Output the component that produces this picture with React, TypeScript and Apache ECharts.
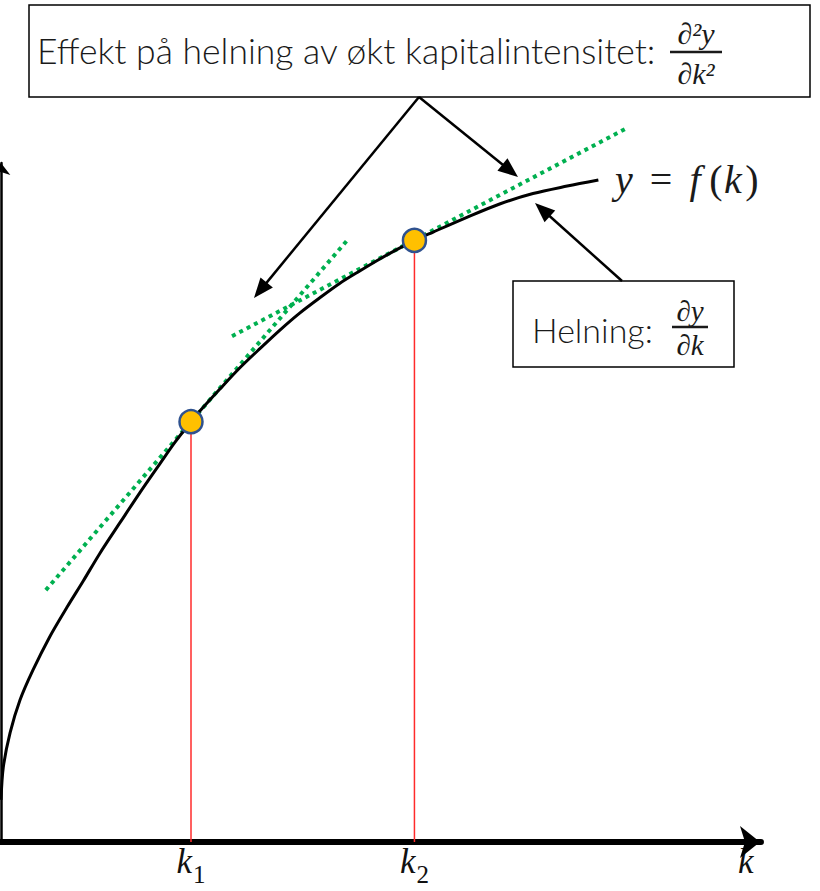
import React, { useEffect, useRef } from "react";
import * as echarts from "echarts";

// Capital intensity k (x) and output per worker y = f(k)
const curveK = [0, 0.03, 0.12, 0.25, 0.42, 0.64, 0.87, 1.08, 1.3, 1.57, 1.83, 2.09, 2.29, 2.5, 2.62, 2.88, 3.14, 3.41, 3.67, 3.93, 4.2, 4.46, 4.72, 4.99, 5.25, 5.44, 5.68, 6.13, 6.57, 7.0, 7.45, 7.86];
const curveY = [0.62, 1.1, 1.61, 2.09, 2.53, 3.02, 3.46, 3.84, 4.25, 4.71, 5.15, 5.57, 5.89, 6.19, 6.35, 6.67, 6.98, 7.27, 7.54, 7.79, 8.02, 8.23, 8.41, 8.59, 8.75, 8.86, 8.98, 9.2, 9.4, 9.55, 9.66, 9.75];

// The two marked capital levels and their output
const markedK = [2.5, 5.44];
const markedY = [6.19, 8.86];

// Tangent (slope) lines drawn at k1 and k2: [k, y] end points
const tangentK1 = [[0.59, 3.71], [4.57, 8.88]];
const tangentK2 = [[3.04, 7.45], [8.21, 10.5]];

// x-axis labels
const tickValues = [markedK[0], markedK[1], 9.8];
const tickNames = ["{k|k}{s|1}", "{k|k}{s|2}", "{k|k}"];

const SANS = '"Lato", "Noto Sans", sans-serif';
const MATH = '"Liberation Serif", "DejaVu Serif", serif';

function arrow(x1: number, y1: number, x2: number, y2: number) {
  const dx = x2 - x1;
  const dy = y2 - y1;
  const len = Math.hypot(dx, dy);
  const ux = dx / len;
  const uy = dy / len;
  const hl = 20;
  const hw = 8;
  const bx = x2 - ux * hl;
  const by = y2 - uy * hl;
  const px = -uy;
  const py = ux;
  return [
    {
      type: "line",
      z: 50,
      shape: { x1, y1, x2: bx + ux * 2, y2: by + uy * 2 },
      style: { stroke: "#000", lineWidth: 2.5 },
    },
    {
      type: "polygon",
      z: 50,
      shape: { points: [[x2, y2], [bx + px * hw, by + py * hw], [bx - px * hw, by - py * hw]] },
      style: { fill: "#000" },
    },
  ];
}

function txt(text: string, x: number, y: number, font: string, align = "center") {
  return {
    type: "text",
    z: 60,
    style: {
      text,
      x,
      y,
      font,
      fill: "#1a1a1a",
      textAlign: align,
      textVerticalAlign: "middle",
      align,
      verticalAlign: "middle",
    },
  };
}

function fracBar(x1: number, x2: number, y: number) {
  return { type: "line", z: 60, shape: { x1, y1: y, x2, y2: y }, style: { stroke: "#1a1a1a", lineWidth: 2.5 } };
}

export default function App() {
  const ref = useRef<HTMLDivElement>(null);

  useEffect(() => {
    if (!ref.current) return;
    const chart = echarts.init(ref.current, undefined, { renderer: "svg" });

    const curve = curveK.map((k, i) => [k, curveY[i]]);
    const dropLines = markedK.map((k, i) => ({
      type: "line",
      data: [[k, 0], [k, markedY[i]]],
      showSymbol: false,
      lineStyle: { color: "#ff2b2b", width: 1.5 },
      z: 1,
    }));

    const option: any = {
      animation: false,
      grid: { left: 1, top: 163, width: 760, height: 679 },
      xAxis: {
        type: "value",
        min: 0,
        max: 10,
        splitLine: { show: false },
        axisTick: { show: false },
        axisLine: {
          show: true,
          onZero: false,
          symbol: ["none", "arrow"],
          symbolSize: [24, 20],
          symbolOffset: [0, -1],
          lineStyle: { color: "#000", width: 6 },
        },
        axisLabel: {
          customValues: tickValues,
          margin: 5,
          formatter: (v: number) => {
            const i = tickValues.findIndex((t) => Math.abs(t - v) < 1e-6);
            return i >= 0 ? tickNames[i] : "";
          },
          rich: {
            k: {
              fontFamily: MATH,
              fontStyle: "italic",
              fontSize: 35,
              color: "#111",
              lineHeight: 40,
              verticalAlign: "bottom",
              padding: [0, 0, 8, 0],
            },
            s: {
              fontFamily: MATH,
              fontSize: 25,
              color: "#111",
              lineHeight: 40,
              verticalAlign: "bottom",
              padding: [0, 0, 0, 1],
            },
          },
        },
      },
      yAxis: {
        type: "value",
        min: 0,
        max: 10,
        splitLine: { show: false },
        axisTick: { show: false },
        axisLabel: { show: false },
        axisLine: {
          show: true,
          symbol: ["none", "arrow"],
          symbolSize: [14, 12],
          lineStyle: { color: "#000", width: 2.5 },
        },
      },
      series: [
        ...dropLines,
        {
          type: "line",
          data: tangentK1,
          showSymbol: false,
          clip: false,
          lineStyle: { color: "#00b050", width: 4, type: [4, 4.3], cap: "butt" },
          z: 2,
        },
        {
          type: "line",
          data: tangentK2,
          showSymbol: false,
          clip: false,
          lineStyle: { color: "#00b050", width: 4, type: [4, 4.3], cap: "butt" },
          z: 2,
        },
        {
          type: "line",
          data: curve,
          showSymbol: false,
          smooth: 0.3,
          clip: false,
          lineStyle: { color: "#000", width: 3 },
          z: 3,
        },
        {
          type: "scatter",
          data: markedK.map((k, i) => [k, markedY[i]]),
          symbolSize: 23,
          itemStyle: { color: "#ffc000", borderColor: "#2f528f", borderWidth: 2.5, opacity: 1 },
          z: 5,
        },
      ],
      graphic: [
        // Box: effect of higher capital intensity on the slope
        { type: "rect", z: 40, shape: { x: 29, y: 5, width: 781, height: 92 }, style: { fill: "#fff", stroke: "#000", lineWidth: 1.5 } },
        txt("Effekt på helning av økt kapitalintensitet:", 37, 50, `300 35.5px ${SANS}`, "left"),
        txt("∂²y", 696, 33, `italic 30px ${MATH}`),
        fracBar(670, 722, 52),
        txt("∂k²", 696, 73, `italic 30px ${MATH}`),
        // Box: slope
        { type: "rect", z: 40, shape: { x: 513, y: 281, width: 221, height: 86 }, style: { fill: "#fff", stroke: "#000", lineWidth: 1.5 } },
        txt("Helning:", 532, 329, `300 34px ${SANS}`, "left"),
        txt("∂y", 690, 311, `italic 29px ${MATH}`),
        fracBar(672, 708, 327),
        txt("∂k", 690, 345, `italic 29px ${MATH}`),
        // Curve label y = f(k)
        txt("y", 624, 179, `italic 40px ${MATH}`),
        txt("=", 661, 179, `40px ${MATH}`),
        txt("f", 695, 179, `italic 40px ${MATH}`),
        txt("(", 716, 179, `40px ${MATH}`),
        txt("k", 733, 179, `italic 40px ${MATH}`),
        txt(")", 752, 179, `40px ${MATH}`),
        // Pointer arrows
        ...arrow(419, 97, 254, 298),
        ...arrow(419, 97, 518, 177),
        ...arrow(622, 281, 535, 203),
      ],
    };

    chart.setOption(option);
    return () => chart.dispose();
  }, []);

  return (
    <div
      ref={ref}
      style={{ position: "fixed", left: 0, top: 0, width: 820, height: 891, background: "#fff" }}
    />
  );
}
